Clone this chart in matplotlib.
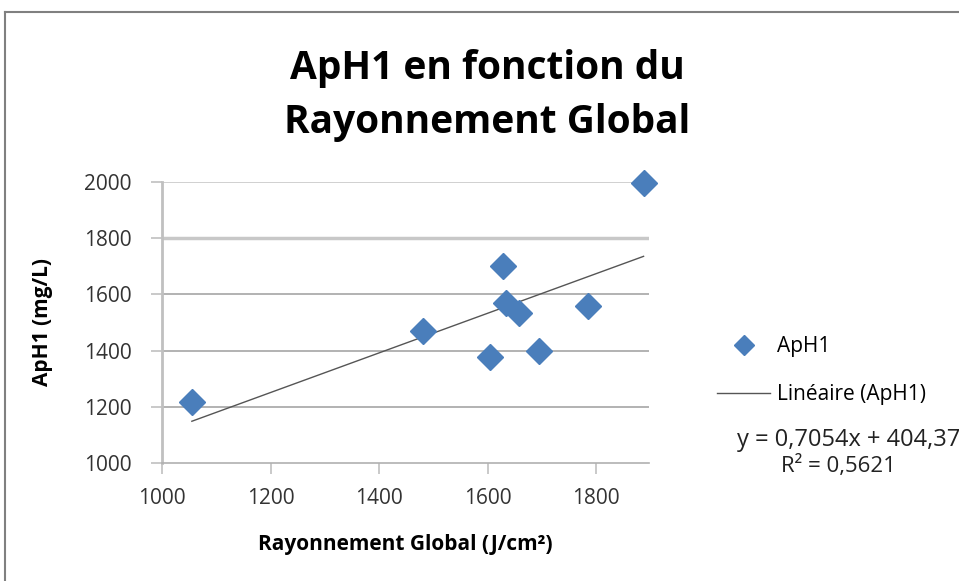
import numpy as np
import matplotlib.pyplot as plt

# Rayonnement global (J/cm²) et ApH1 (mg/L)
rayonnement = [1055, 1480, 1605, 1629, 1634, 1657, 1694, 1784, 1887]
aph1 = [1218, 1471, 1376, 1701, 1568, 1535, 1399, 1560, 1998]

# Courbe de tendance linéaire affichée (Excel)
pente = 0.7054
origine = 404.37
r2 = 0.5621

xticks = [1000, 1200, 1400, 1600, 1800]
yticks = [1000, 1200, 1400, 1600, 1800, 2000]

plt.rcParams['font.family'] = ['Open Sans', 'DejaVu Sans']

fig = plt.figure(figsize=(9.59, 5.81), dpi=100)
ax = fig.add_axes([162/959, 1 - 463/581, (649-162)/959, (463-182)/581])

# cadre extérieur du graphique
fig.add_artist(plt.Line2D([5/959, 5/959], [0, 1 - 12/581], color='#808080', lw=1.5, transform=fig.transFigure))
fig.add_artist(plt.Line2D([5/959, 1], [1 - 12/581, 1 - 12/581], color='#808080', lw=1.5, transform=fig.transFigure))

for yv in yticks[1:]:
    lw = 2.5 if yv == 1800 else 1.2
    c = '#c8c8c8' if yv >= 1800 else '#a6a6a6'
    ax.axhline(yv, color=c, lw=lw, zorder=0)

ax.plot(rayonnement, aph1, linestyle='none', marker='D', ms=13,
        color='#4a7ebb', label='ApH1', zorder=3, clip_on=False)

xs = np.array([min(rayonnement), max(rayonnement)])
ax.plot(xs, pente * xs + origine, color='#555555', lw=1, label='Linéaire (ApH1)', zorder=2)

ax.set_xlim(1000, 1897)
ax.set_ylim(1000, 2000)
ax.set_xticks(xticks)
ax.set_yticks(yticks)
ax.tick_params(axis='both', length=8, width=1.2, color='#c0c0c0', labelsize=15,
               labelcolor='#333333')
ax.tick_params(axis='y', pad=14)
ax.tick_params(axis='x', pad=10)

for s in ['top', 'right']:
    ax.spines[s].set_visible(False)
ax.spines['left'].set_color('#c0c0c0')
ax.spines['left'].set_linewidth(2)
ax.spines['bottom'].set_color('#b0b0b0')
ax.spines['bottom'].set_linewidth(1.2)

ax.set_xlabel('Rayonnement Global (J/cm²)', fontsize=15, fontweight='bold', labelpad=18)
ax.set_ylabel('ApH1 (mg/L)', fontsize=15, fontweight='bold', labelpad=22)

fig.text(487/959, 1 - 96/581, 'ApH1 en fonction du\nRayonnement Global', ha='center', va='center',
         fontsize=28, fontweight='bold', linespacing=1.5)

leg = ax.legend(loc='upper left', bbox_to_anchor=(717/959, 1 - 336/581), bbox_transform=fig.transFigure,
                frameon=False, fontsize=15, borderpad=0, borderaxespad=0,
                handlelength=2.55, handletextpad=0.35, labelspacing=1.3, markerscale=0.75)

fig.text(737/959, 1 - 440/581, 'y = 0,7054x + 404,37', fontsize=17, va='center', color='#222222')
fig.text(838/959, 1 - 466/581, 'R² = 0,5621', fontsize=16, va='center', ha='center', color='#222222')

fig.savefig('out.png', dpi=100)
